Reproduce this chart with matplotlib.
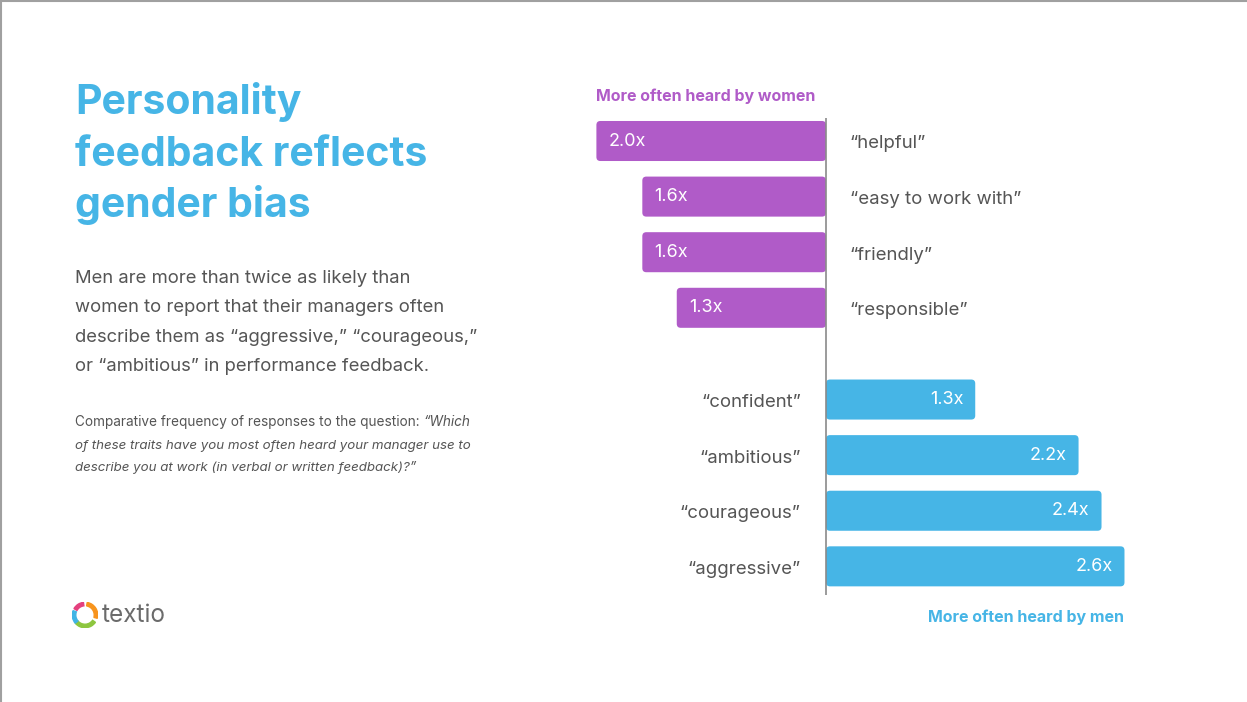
"""
Personality feedback chart, slide style.
"""
import matplotlib
matplotlib.use('Agg')
import matplotlib.pyplot as plt
from matplotlib.patches import FancyBboxPatch, Wedge
from matplotlib.lines import Line2D

# data
womenWords = ['\u201chelpful\u201d', '\u201ceasy to work with\u201d', '\u201cfriendly\u201d', '\u201cresponsible\u201d']
womenVals = [2.0, 1.6, 1.6, 1.3]
menWords = ['\u201cconfident\u201d', '\u201cambitious\u201d', '\u201ccourageous\u201d', '\u201caggressive\u201d']
menVals = [1.3, 2.2, 2.4, 2.6]

W, H = 1247, 702
PURPLE = '#B05BC8'
BLUE = '#46B5E6'
GRAY = '#555555'
FONT = ['Inter', 'DejaVu Sans']

plt.rcParams['font.family'] = FONT

fig = plt.figure(figsize=(W / 100, H / 100), dpi=100)
fig.patch.set_facecolor('white')


def fx(x):
    return x / W


def fy(y):
    return 1 - y / H


# slide border (top and left)
fig.add_artist(Line2D([0.0008, 0.0008], [0, 1], color='#a0a0a0', lw=1.5, transform=fig.transFigure))
fig.add_artist(Line2D([0, 1], [0.999, 0.999], color='#a0a0a0', lw=1.5, transform=fig.transFigure))

# title
for i, ln in enumerate(['Personality', 'feedback reflects', 'gender bias']):
    fig.text(fx(75), fy(114 + 51.5 * i), ln, color=BLUE, fontsize=29.5,
             fontweight='bold', va='baseline', ha='left')

# body
body = ['Men are more than twice as likely than',
        'women to report that their managers often',
        'describe them as \u201caggressive,\u201d \u201ccourageous,\u201d',
        'or \u201cambitious\u201d in performance feedback.']
for i, ln in enumerate(body):
    fig.text(fx(75), fy(283 + 29.3 * i), ln, color=GRAY, fontsize=13.3,
             va='baseline', ha='left')

# note, first line mixes regular and italic
t0 = fig.text(fx(75), fy(426), 'Comparative frequency of responses to the question: ',
              color=GRAY, fontsize=9.8, va='baseline', ha='left')
fig.canvas.draw()
bb = t0.get_window_extent(fig.canvas.get_renderer())
fig.text(bb.x1 / W, fy(426), '\u201cWhich', color=GRAY, fontsize=9.8,
         style='italic', va='baseline', ha='left')
note = ['of these traits have you most often heard your manager use to',
        'describe you at work (in verbal or written feedback)?\u201d']
for i, ln in enumerate(note):
    fig.text(fx(75), fy(448.5 + 22.5 * i), ln, color=GRAY, fontsize=9.6,
             style='italic', va='baseline', ha='left')

# logo
axL = fig.add_axes([fx(72), fy(628), 26 / W, 26 / H])
axL.set_xlim(-1, 1)
axL.set_ylim(-1, 1)
axL.axis('off')
for a0, a1, c in [(97, 150, '#E4407E'), (-15, 80, '#F7941D'),
                  (-140, -35, '#8DC63F'), (160, 220, '#40B4E5')]:
    axL.add_patch(Wedge((0, 0), 0.98, a0, a1, width=0.27, color=c))
fig.text(fx(102), fy(622), 'textio', color='#6b6b6b', fontsize=17.5, va='baseline', ha='left')

# chart
pxX = 114.8
pxY = 55.6
x0, y0 = 826, 141
axL_px, axR_px, axT_px, axB_px = 560, 1180, 100, 610
ax = fig.add_axes([fx(axL_px), fy(axB_px), (axR_px - axL_px) / W, (axB_px - axT_px) / H])
ax.set_xlim((axL_px - x0) / pxX, (axR_px - x0) / pxX)
ax.set_ylim((axB_px - y0) / pxY, (axT_px - y0) / pxY)
ax.axis('off')

nW = len(womenVals)
yW = list(range(nW))
yM = [nW + 0.65 + i for i in range(len(menVals))]
barH = 0.72

bW = ax.barh(yW, [-v for v in womenVals], height=barH, color=PURPLE)
bM = ax.barh(yM, menVals, height=barH, color=BLUE)

# rounded bar ends
rad = 4 / pxX
asp = pxX / pxY
for bars, c in [(bW, PURPLE), (bM, BLUE)]:
    for b in bars:
        x, y = b.get_x(), b.get_y()
        w, h = b.get_width(), b.get_height()
        if w < 0:
            x, w = x + w, -w
        b.remove()
        ax.add_patch(FancyBboxPatch((x, y), w, h, boxstyle='round,pad=0,rounding_size=%f' % rad,
                                    mutation_aspect=asp, fc=c, ec='none'))

dy = 3 / pxY
for y, v, s in zip(yW, womenVals, womenWords):
    ax.text(-v + 12 / pxX, y, '%.1fx' % v, color='white', fontsize=13, va='center', ha='left')
    ax.text(24 / pxX, y + dy, s, color=GRAY, fontsize=13.4, va='center', ha='left')
for y, v, s in zip(yM, menVals, menWords):
    ax.text(v - 12 / pxX, y, '%.1fx' % v, color='white', fontsize=13, va='center', ha='right')
    ax.text(-25 / pxX, y + dy, s, color=GRAY, fontsize=13.4, va='center', ha='right')

# zero line
ax.vlines(0, (118 - y0) / pxY, (595 - y0) / pxY, color='#8a8a8a', lw=1.2)

ax.text(-womenVals[0], -0.8, 'More often heard by women', color=PURPLE, fontsize=11.5,
        fontweight='bold', ha='left', va='center')
ax.text(menVals[-1], yM[-1] + 0.92, 'More often heard by men', color=BLUE, fontsize=11.5,
        fontweight='bold', ha='right', va='center')

fig.savefig('out.png', dpi=100, facecolor='white')
